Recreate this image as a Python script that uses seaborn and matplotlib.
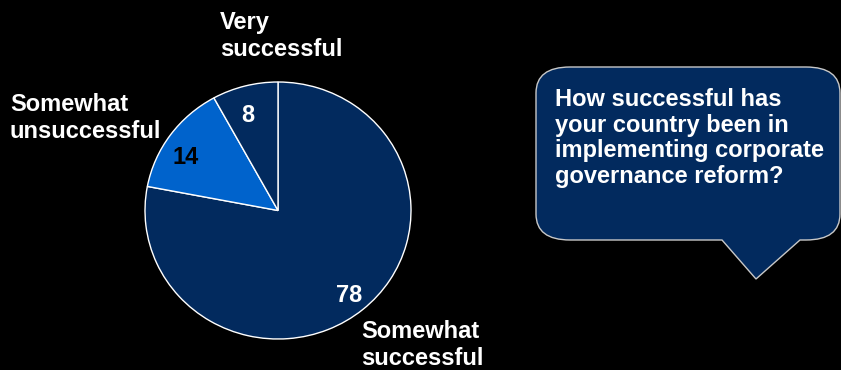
import matplotlib
matplotlib.use("Agg")
import matplotlib.pyplot as plt
from matplotlib.path import Path
from matplotlib.patches import PathPatch
import seaborn as sns

# Survey responses (percent), drawn clockwise from 12 o'clock
categories = ["Somewhat successful", "Somewhat unsuccessful", "Very successful"]
shares = [78, 14, 8]
value_labels = ["78", "14", "8"]
category_labels = ["Somewhat\nsuccessful", "Somewhat\nunsuccessful", "Very\nsuccessful"]
question = "How successful has\nyour country been in\nimplementing corporate\ngovernance reform?"

NAVY = "#022a5e"
BLUE = "#0063cc"
slice_colors = [NAVY, BLUE, NAVY]
value_colors = ["white", "black", "white"]

sns.set_style("dark", rc={"axes.facecolor": "black", "figure.facecolor": "black"})
plt.rcParams["font.family"] = ["Liberation Sans", "DejaVu Sans"]

W, H = 841, 370
fig = plt.figure(figsize=(W / 100, H / 100), dpi=100)


def Y(y):
    """Convert a top-down pixel row to the overlay's bottom-up coordinate."""
    return H - y


# Pie in its own axes (slightly flattened vertically)
pl, pr, pt, pb = 145, 411, 82, 339
pax = fig.add_axes([pl / W, (H - pb) / H, (pr - pl) / W, (pb - pt) / H])
pax.pie(shares, colors=slice_colors, startangle=90, counterclock=False,
        radius=1.0, wedgeprops=dict(edgecolor="white", linewidth=1.0))
pax.set_aspect("auto")
pax.set_xlim(-1, 1)
pax.set_ylim(-1, 1)
pax.axis("off")

# Transparent overlay in pixel units for labels and the callout
ax = fig.add_axes([0, 0, 1, 1])
ax.set_xlim(0, W)
ax.set_ylim(0, H)
ax.axis("off")
ax.patch.set_alpha(0)

# Values inside slices
value_pos = [(349, 296), (186, 157), (248, 115)]
for txt, (x, y), c in zip(value_labels, value_pos, value_colors):
    ax.text(x, Y(y), txt, color=c, fontsize=17, fontweight="bold",
            ha="center", va="center", zorder=5)

# Category labels
cat_pos = [(361, 320), (10, 93), (220, 11)]
for txt, (x, y) in zip(category_labels, cat_pos):
    ax.text(x, Y(y), txt, color="white", fontsize=17, fontweight="bold",
            ha="left", va="top", linespacing=1.22, zorder=5)

# Speech-bubble callout
x0, x1, y0, y1 = 536, 840, 67, 240
rx, ry = 34, 26
px0, px1, tipx, tipy = 722, 800, 756, 279
pts = [
    ((x0 + rx, y0), Path.MOVETO),
    ((x1 - rx, y0), Path.LINETO),
    ((x1, y0), Path.CURVE3), ((x1, y0 + ry), Path.CURVE3),
    ((x1, y1 - ry), Path.LINETO),
    ((x1, y1), Path.CURVE3), ((x1 - rx, y1), Path.CURVE3),
    ((px1, y1), Path.LINETO),
    ((tipx, tipy), Path.LINETO),
    ((px0, y1), Path.LINETO),
    ((x0 + rx, y1), Path.LINETO),
    ((x0, y1), Path.CURVE3), ((x0, y1 - ry), Path.CURVE3),
    ((x0, y0 + ry), Path.LINETO),
    ((x0, y0), Path.CURVE3), ((x0 + rx, y0), Path.CURVE3),
    ((x0 + rx, y0), Path.CLOSEPOLY),
]
verts = [(x, Y(y)) for (x, y), _ in pts]
codes = [c for _, c in pts]
ax.add_patch(PathPatch(Path(verts, codes), facecolor=NAVY,
                       edgecolor="#c8c8c8", linewidth=1.0, clip_on=False))
ax.text(555, Y(88), question, color="white", fontsize=17, fontweight="bold",
        ha="left", va="top", linespacing=1.14)

fig.savefig("out.png", dpi=100, facecolor="black")
